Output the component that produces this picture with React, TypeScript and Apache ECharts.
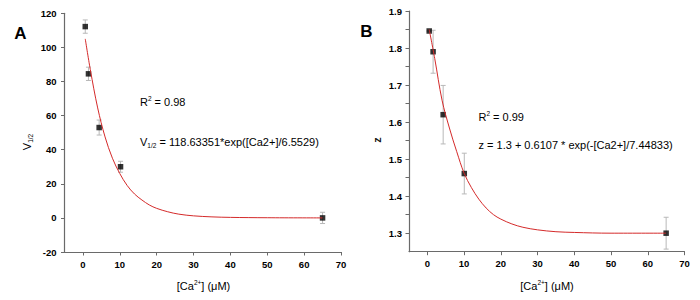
import React, { useEffect, useRef } from "react";
import * as echarts from "echarts";

// ---- Data ----
const xTickValues = [0, 10, 20, 30, 40, 50, 60, 70];

// Panel A: V1/2 vs [Ca2+]
const caA = [0.63, 1.5, 4.4, 10.2, 65];
const v12 = [112.2, 84.5, 53, 30, 0];
const v12Err = [3.9, 3.9, 4.4, 3.2, 3.3];
const fitAx = [0.63, 2, 4, 6, 8, 10, 12, 14, 16, 18, 20, 23, 26, 30, 35, 40, 50, 65];
const fitAy = [105, 87, 64.5, 47.5, 35, 26, 19, 14, 10.5, 7.6, 5.6, 3.6, 2.2, 1.2, 0.6, 0.3, 0.1, 0];

// Panel B: z vs [Ca2+]
const caB = [0.5, 1.56, 4.3, 10.05, 65];
const zVals = [1.846, 1.79, 1.62, 1.461, 1.3];
const zErr = [0, 0.058, 0.079, 0.055, 0.043];
const fitBx = [0.5, 2, 4, 6, 8, 10, 12, 14, 16, 18, 20, 23, 26, 30, 35, 40, 50, 65];
const fitBy = [1.85, 1.772, 1.659, 1.584, 1.52, 1.462, 1.423, 1.392, 1.368, 1.35, 1.338, 1.325, 1.316, 1.309, 1.304, 1.302, 1.3, 1.3];
const zLabelValues = [1.3, 1.4, 1.5, 1.6, 1.7, 1.8, 1.9];
const zTickValues = [1.3, 1.35, 1.4, 1.45, 1.5, 1.55, 1.6, 1.65, 1.7, 1.75, 1.8, 1.85, 1.9];

const FONT = "'Liberation Sans', Arial, Helvetica, sans-serif";
const AXIS_COLOR = "#6a6a6a";
const FIT_COLOR = "#d42a2a";
const ERR_COLOR = "#b8b8b8";

function errorRender(params: any, api: any) {
  const x = api.value(0);
  const lo = api.coord([x, api.value(1)]);
  const hi = api.coord([x, api.value(2)]);
  const w = 2.5;
  const st = { stroke: ERR_COLOR, lineWidth: 1 };
  return {
    type: "group",
    children: [
      { type: "line", shape: { x1: lo[0], y1: lo[1], x2: hi[0], y2: hi[1] }, style: st },
      { type: "line", shape: { x1: lo[0] - w, y1: lo[1], x2: lo[0] + w, y2: lo[1] }, style: st },
      { type: "line", shape: { x1: hi[0] - w, y1: hi[1], x2: hi[0] + w, y2: hi[1] }, style: st },
    ],
  };
}

function xAxisCfg(gridIndex: number) {
  return {
    type: "value",
    gridIndex,
    min: -5,
    max: 70,
    axisLine: { show: true, onZero: false, lineStyle: { color: AXIS_COLOR, width: 1.2 } },
    axisTick: { show: true, inside: false, length: 3.5, customValues: xTickValues, lineStyle: { color: AXIS_COLOR } },
    axisLabel: {
      customValues: xTickValues,
      margin: 7,
      color: "#000",
      fontWeight: "bold",
      fontSize: 9.5,
      fontFamily: FONT,
    },
    splitLine: { show: false },
  };
}

const richBase = {
  t: { fontSize: 11, fontFamily: FONT, color: "#111", lineHeight: 14 },
  sup: { fontSize: 6.5, fontFamily: FONT, color: "#111", lineHeight: 8, verticalAlign: "top" },
  sub: { fontSize: 6.5, fontFamily: FONT, color: "#111", lineHeight: 8, verticalAlign: "bottom" },
};

export default function App() {
  const ref = useRef<HTMLDivElement>(null);

  useEffect(() => {
    if (!ref.current) return;
    const chart = echarts.init(ref.current, undefined, { renderer: "svg" });

    const fitLine = (xi: number, xs: number[], ys: number[]) => ({
      type: "line",
      xAxisIndex: xi,
      yAxisIndex: xi,
      smooth: 0.35,
      showSymbol: false,
      lineStyle: { color: FIT_COLOR, width: 1 },
      data: xs.map((x, i) => [x, ys[i]]),
      z: 3,
    });

    const option: any = {
      animation: false,
      backgroundColor: "#ffffff",
      grid: [
        { left: 64.5, top: 13.3, width: 276.5, height: 238.7 },
        { left: 409, top: 11, width: 275.5, height: 240.7 },
      ],
      xAxis: [xAxisCfg(0), xAxisCfg(1)],
      yAxis: [
        {
          type: "value",
          gridIndex: 0,
          min: -20,
          max: 120,
          interval: 20,
          axisLine: { show: true, onZero: false, lineStyle: { color: AXIS_COLOR, width: 1.2 } },
          axisTick: { show: true, inside: false, length: 3.5, lineStyle: { color: AXIS_COLOR } },
          axisLabel: { margin: 8, color: "#000", fontWeight: "bold", fontSize: 9.5, fontFamily: FONT },
          splitLine: { show: false },
        },
        {
          type: "value",
          gridIndex: 1,
          min: 1.25,
          max: 1.9,
          axisLine: { show: true, onZero: false, lineStyle: { color: AXIS_COLOR, width: 1.2 } },
          axisTick: { show: true, inside: false, length: 3.5, customValues: zTickValues, lineStyle: { color: AXIS_COLOR } },
          axisLabel: {
            customValues: zLabelValues,
            formatter: (v: number) => v.toFixed(1),
            margin: 7,
            color: "#000",
            fontWeight: "bold",
            fontSize: 9.5,
            fontFamily: FONT,
          },
          splitLine: { show: false },
        },
      ],
      series: [
        {
          type: "custom",
          xAxisIndex: 0,
          yAxisIndex: 0,
          renderItem: errorRender,
          encode: { x: 0, y: [1, 2] },
          data: caA.map((x, i) => [x, v12[i] - v12Err[i], v12[i] + v12Err[i]]),
          z: 1,
        },
        {
          type: "scatter",
          xAxisIndex: 0,
          yAxisIndex: 0,
          symbol: "rect",
          symbolSize: 5.5,
          itemStyle: { color: "#000" },
          data: caA.map((x, i) => [x, v12[i]]),
          z: 2,
        },
        fitLine(0, fitAx, fitAy),
        {
          type: "custom",
          xAxisIndex: 1,
          yAxisIndex: 1,
          renderItem: errorRender,
          encode: { x: 0, y: [1, 2] },
          data: caB.map((x, i) => [x, zVals[i] - zErr[i], zVals[i] + zErr[i]]),
          z: 1,
        },
        {
          type: "scatter",
          xAxisIndex: 1,
          yAxisIndex: 1,
          symbol: "rect",
          symbolSize: 5.5,
          itemStyle: { color: "#000" },
          data: caB.map((x, i) => [x, zVals[i]]),
          z: 2,
        },
        fitLine(1, fitBx, fitBy),
      ],
      graphic: [
        { type: "text", x: 20.5, y: 33, style: { text: "A", font: `bold 17px ${FONT}`, fill: "#000", align: "center", verticalAlign: "middle" } },
        { type: "text", x: 366.5, y: 31.5, style: { text: "B", font: `bold 17px ${FONT}`, fill: "#000", align: "center", verticalAlign: "middle" } },
        {
          type: "text", x: 27, y: 142, rotation: Math.PI / 2,
          style: { text: "{t|V}{sub|1/2}", rich: richBase, align: "center", verticalAlign: "middle" },
        },
        {
          type: "text", x: 376.5, y: 140, rotation: Math.PI / 2,
          style: { text: "z", font: `bold 11px ${FONT}`, fill: "#111", align: "center", verticalAlign: "middle" },
        },
        {
          type: "text", x: 203.5, y: 286,
          style: { text: "{t|[Ca}{sup|2+}{t|] (μM)}", rich: richBase, align: "center", verticalAlign: "middle" },
        },
        {
          type: "text", x: 547, y: 286,
          style: { text: "{t|[Ca}{sup|2+}{t|] (μM)}", rich: richBase, align: "center", verticalAlign: "middle" },
        },
        {
          type: "text", x: 140, y: 102,
          style: { text: "{t|R}{sup|2}{t| = 0.98}", rich: richBase, align: "left", verticalAlign: "middle" },
        },
        {
          type: "text", x: 140, y: 142,
          style: { text: "{t|V}{sub|1/2}{t| = 118.63351*exp([Ca2+]/6.5529)}", rich: richBase, align: "left", verticalAlign: "middle" },
        },
        {
          type: "text", x: 478.5, y: 117,
          style: { text: "{t|R}{sup|2}{t| = 0.99}", rich: richBase, align: "left", verticalAlign: "middle" },
        },
        {
          type: "text", x: 478.5, y: 145,
          style: { text: "{t|z = 1.3 + 0.6107 * exp(-[Ca2+]/7.44833)}", rich: richBase, align: "left", verticalAlign: "middle" },
        },
      ],
    };

    chart.setOption(option);
    return () => chart.dispose();
  }, []);

  return (
    <div
      ref={ref}
      style={{ position: "fixed", left: 0, top: 0, width: 700, height: 300, background: "#fff" }}
    />
  );
}
